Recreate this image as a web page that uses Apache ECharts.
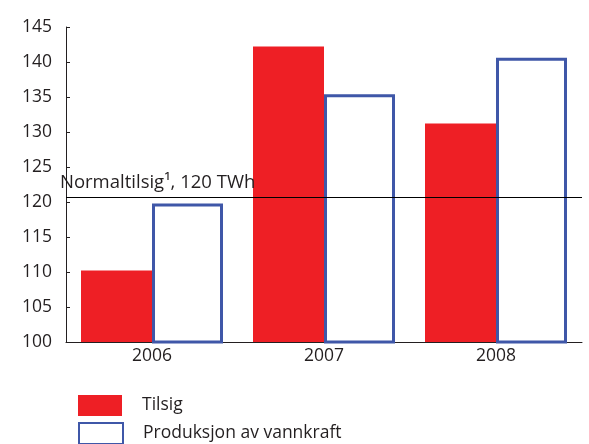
<!DOCTYPE html>
<html>
<head>
<meta charset="utf-8">
<script src="https://cdn.jsdelivr.net/npm/echarts@6/dist/echarts.min.js"></script>
<style>
  html, body { margin: 0; padding: 0; background: #fff; }
  #chart { width: 589px; height: 444px; }
</style>
</head>
<body>
<div id="chart"></div>
<script>
// Years on the category axis
var years = ['2006', '2007', '2008'];
// Inflow (TWh)
var tilsig = [110.2, 142.2, 131.2];
// Hydropower production (TWh)
var produksjon = [119.8, 135.4, 140.6];
// Normal inflow reference level
var normaltilsig = 120.7;
var normalLabel = 'Normaltilsig\u00b9, 120 TWh';
// Value axis range
var yMin = 100, yMax = 145, yStep = 5;
// Series names shown in the key
var seriesNames = ['Tilsig', 'Produksjon av vannkraft'];

var font = 'Open Sans';
var ink = '#231f20';
var fs = 17.5;

// One key row per series, stacked under the chart
function keyRow(name, top) {
  return {
    orient: 'vertical',
    left: 78, top: top,
    padding: 0,
    itemWidth: 44, itemHeight: 21,
    icon: 'rect',
    selectedMode: false,
    textStyle: { fontFamily: font, fontSize: fs, lineHeight: 21, color: ink, padding: [0, 0, 0, 15] },
    data: [name]
  };
}

var chart = echarts.init(document.getElementById('chart'));
chart.setOption({
  animation: false,
  textStyle: { fontFamily: font, color: ink },
  grid: { left: 66, right: 7, top: 27, bottom: 102, containLabel: false },
  legend: [keyRow(seriesNames[0], 395), keyRow(seriesNames[1], 422)],
  xAxis: {
    type: 'category',
    data: years,
    axisLine: { lineStyle: { color: ink, width: 1 } },
    axisTick: { inside: true, length: 5, lineStyle: { color: ink } },
    axisLabel: { fontFamily: font, fontSize: fs, color: ink, margin: 5 }
  },
  yAxis: {
    type: 'value',
    min: yMin, max: yMax, interval: yStep,
    splitLine: { show: false },
    axisLine: { show: true, lineStyle: { color: ink, width: 1 } },
    axisTick: { show: true, inside: true, length: 4, lineStyle: { color: ink } },
    axisLabel: { fontFamily: font, fontSize: fs, color: ink, margin: 14 }
  },
  series: [
    {
      name: seriesNames[0],
      type: 'bar',
      data: tilsig,
      barWidth: 71,
      barGap: '0%',
      itemStyle: { color: '#ee1f25' },
      markLine: {
        symbol: 'none',
        silent: true,
        lineStyle: { color: '#000', width: 1, type: 'solid' },
        label: {
          position: 'insideStartTop',
          formatter: normalLabel,
          fontFamily: font, fontSize: 18.5, color: ink,
          distance: [-6, 5]
        },
        data: [{ yAxis: normaltilsig }]
      }
    },
    {
      name: seriesNames[1],
      type: 'bar',
      data: produksjon,
      barWidth: 71,
      itemStyle: { color: '#ffffff', borderColor: '#3f57a8', borderWidth: 3 }
    }
  ]
});
</script>
</body>
</html>
